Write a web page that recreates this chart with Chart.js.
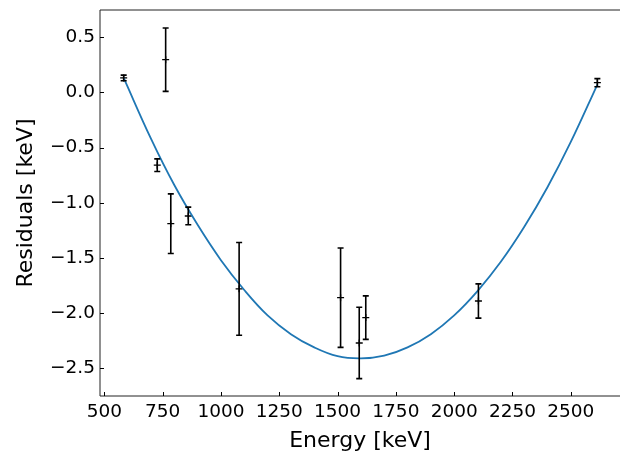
<!DOCTYPE html>
<html>
<head>
<meta charset="utf-8">
<script src="https://cdn.jsdelivr.net/npm/chart.js@4.4.1/dist/chart.umd.min.js"></script>
<style>
  html, body { margin: 0; padding: 0; background: #fff; overflow: hidden; }
</style>
</head>
<body>
<canvas id="chart" width="620" height="457"></canvas>
<script>
// measured lines (keV) and their residuals
const energies = [583, 727, 763, 785, 860, 1078, 1513, 1593, 1621, 2104, 2614];
const residuals = [0.13, -0.66, 0.295, -1.19, -1.12, -1.78, -1.86, -2.27, -2.04, -1.89, 0.087];
const residualErrors = [0.025, 0.057, 0.287, 0.27, 0.08, 0.42, 0.45, 0.323, 0.197, 0.155, 0.037];

// fitted curve
const fitEnergies = [583, 700, 800, 900, 1000, 1100, 1200, 1300, 1400, 1500, 1600,
                     1700, 1800, 1900, 2000, 2100, 2200, 2300, 2400, 2500, 2614];
const fitResiduals = [0.13, -0.42, -0.84, -1.20, -1.52, -1.79, -2.02, -2.19, -2.31, -2.39, -2.41,
                      -2.385, -2.31, -2.19, -2.02, -1.80, -1.535, -1.22, -0.86, -0.45, 0.07];

const xTicks = [500, 750, 1000, 1250, 1500, 1750, 2000, 2250, 2500];
const yTicks = [-2.5, -2.0, -1.5, -1.0, -0.5, 0.0, 0.5];

const FONT = "'DejaVu Sans', sans-serif";

// error bars, inward ticks and the frame (matplotlib look)
const mplExtras = {
  id: "mplExtras",
  afterDatasetsDraw(chart) {
    const { ctx, scales: { x, y } } = chart;
    ctx.save();
    ctx.strokeStyle = "#000";
    ctx.lineWidth = 1.6;
    energies.forEach((e, i) => {
      const px = x.getPixelForValue(e);
      const top = y.getPixelForValue(residuals[i] + residualErrors[i]);
      const bot = y.getPixelForValue(residuals[i] - residualErrors[i]);
      ctx.beginPath();
      ctx.moveTo(px, top);
      ctx.lineTo(px, bot);
      ctx.moveTo(px - 3, top);
      ctx.lineTo(px + 3, top);
      ctx.moveTo(px - 3, bot);
      ctx.lineTo(px + 3, bot);
      ctx.stroke();
    });
    ctx.restore();
  },
  afterDraw(chart) {
    const { ctx, chartArea: a, scales: { x, y } } = chart;
    ctx.save();
    ctx.strokeStyle = "#222";
    ctx.lineWidth = 1;
    ctx.beginPath();
    ctx.moveTo(a.left, a.top);
    ctx.lineTo(a.right, a.top);
    ctx.moveTo(a.left, a.top);
    ctx.lineTo(a.left, a.bottom);
    ctx.lineTo(a.right, a.bottom);
    ctx.stroke();
    ctx.strokeStyle = "#000";
    ctx.beginPath();
    xTicks.forEach(v => {
      const px = Math.round(x.getPixelForValue(v)) + 0.5;
      ctx.moveTo(px, a.bottom);
      ctx.lineTo(px, a.bottom - 4);
    });
    yTicks.forEach(v => {
      const py = Math.round(y.getPixelForValue(v)) + 0.5;
      ctx.moveTo(a.left, py);
      ctx.lineTo(a.left + 4, py);
    });
    ctx.stroke();
    ctx.restore();
  }
};

const noPad = s => {
  s.paddingLeft = 0;
  s.paddingRight = 0;
  s.paddingTop = 0;
  s.paddingBottom = 0;
};

new Chart(document.getElementById("chart"), {
  type: "scatter",
  data: {
    datasets: [
      {
        type: "line",
        data: fitEnergies.map((e, i) => ({ x: e, y: fitResiduals[i] })),
        borderColor: "#1f77b4",
        borderWidth: 1.8,
        pointRadius: 0,
        tension: 0.4,
        fill: false,
      },
      {
        data: energies.map((e, i) => ({ x: e, y: residuals[i] })),
        pointStyle: "cross",
        pointRadius: 3.5,
        borderColor: "#000",
        backgroundColor: "#000",
        borderWidth: 1.3,
      },
    ],
  },
  options: {
    responsive: false,
    animation: false,
    layout: { autoPadding: false, padding: { top: 10, left: 0, right: 0, bottom: 0 } },
    plugins: {
      legend: { display: false },
      tooltip: { enabled: false },
    },
    scales: {
      x: {
        type: "linear",
        min: 481.5,
        max: 2711,
        afterBuildTicks: s => { s.ticks = xTicks.map(v => ({ value: v })); },
        afterFit: s => { s.height = 61; noPad(s); },
        grid: { display: false, drawTicks: false },
        border: { display: false },
        ticks: {
          color: "#000",
          padding: 5,
          maxRotation: 0,
          autoSkip: false,
          font: { family: FONT, size: 18.5 },
          callback: v => String(v),
        },
        title: {
          display: true,
          text: "Energy [keV]",
          color: "#000",
          padding: { top: 0, bottom: 3 },
          font: { family: FONT, size: 22 },
        },
      },
      y: {
        min: -2.75,
        max: 0.745,
        afterBuildTicks: s => { s.ticks = yTicks.map(v => ({ value: v })); },
        afterFit: s => { s.width = 100; noPad(s); },
        grid: { display: false, drawTicks: false },
        border: { display: false },
        ticks: {
          color: "#000",
          padding: 5,
          autoSkip: false,
          font: { family: FONT, size: 18.5 },
          callback: v => v.toFixed(1).replace("-", "\u2212"),
        },
        title: {
          display: true,
          text: "Residuals [keV]",
          color: "#000",
          padding: { top: 13, bottom: 0 },
          font: { family: FONT, size: 22 },
        },
      },
    },
  },
  plugins: [mplExtras],
});
</script>
</body>
</html>
